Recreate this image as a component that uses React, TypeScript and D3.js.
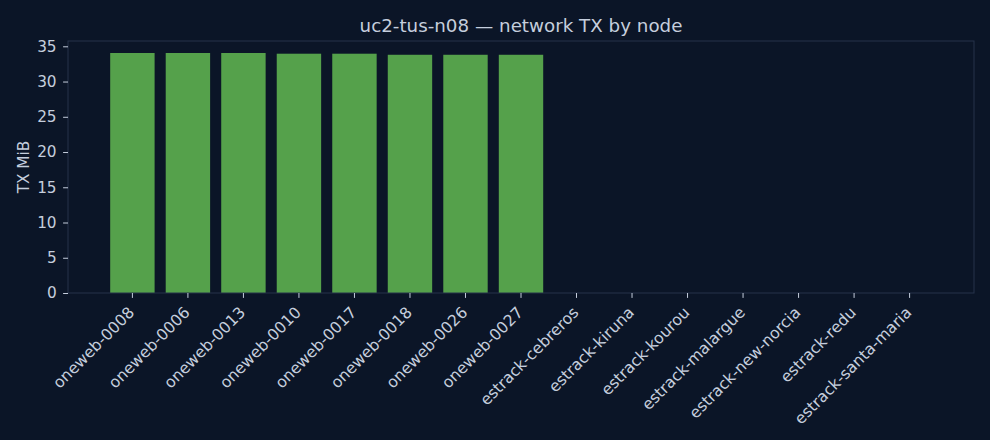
import * as d3 from "d3";
import React, { useRef, useEffect } from "react";

const width = 990;
const height = 440;
const margin = { top: 41, right: 16, bottom: 147, left: 68 };

const nodes = [
	"oneweb-0008",
	"oneweb-0006",
	"oneweb-0013",
	"oneweb-0010",
	"oneweb-0017",
	"oneweb-0018",
	"oneweb-0026",
	"oneweb-0027",
	"estrack-cebreros",
	"estrack-kiruna",
	"estrack-kourou",
	"estrack-malargue",
	"estrack-new-norcia",
	"estrack-redu",
	"estrack-santa-maria",
];
const txMiB = [34.05, 34.05, 34.05, 33.95, 33.95, 33.8, 33.8, 33.8, 0, 0, 0, 0, 0, 0, 0];
const yTicks = [0, 5, 10, 15, 20, 25, 30, 35];

const bg = "#0b1527";
const textColor = "#c5cedd";
const spineColor = "#26334b";
const barColor = "#55a14b";
const font = "DejaVu Sans, sans-serif";
const tickFont = 15.3;

const App = () => {
	const d3Container = useRef(null);

	useEffect(() => {
		document.body.style.margin = "0";
		if (d3Container.current) {
			const svg = d3.select(d3Container.current);
			svg.selectAll("*").remove();
			renderChart(svg);
		}
	}, []);

	const renderChart = (svg: any) => {
		const innerW = width - margin.left - margin.right;
		const innerH = height - margin.top - margin.bottom;

		svg.append("rect").attr("width", width).attr("height", height).attr("fill", bg);

		const g = svg
			.append("g")
			.attr("transform", `translate(${margin.left}, ${margin.top})`);

		// matplotlib-like: bars of width 0.8, 5% margins on data extent
		const xScale = d3
			.scaleBand()
			.domain(nodes)
			.range([0, innerW])
			.paddingInner(0.2)
			.paddingOuter(0.76);
		const yMax = d3.max(txMiB)! * 1.05;
		const yScale = d3.scaleLinear().domain([0, yMax]).range([innerH, 0]);

		g.selectAll(".bar")
			.data(nodes)
			.enter()
			.append("rect")
			.attr("class", "bar")
			.attr("x", (d: string) => xScale(d))
			.attr("y", (d: string, i: number) => yScale(txMiB[i]))
			.attr("width", xScale.bandwidth())
			.attr("height", (d: string, i: number) => innerH - yScale(txMiB[i]))
			.attr("fill", barColor);

		// frame
		g.append("rect")
			.attr("x", 0)
			.attr("y", 0)
			.attr("width", innerW)
			.attr("height", innerH)
			.attr("fill", "none")
			.attr("stroke", spineColor)
			.attr("stroke-width", 1);

		const yAxis = g
			.append("g")
			.call(d3.axisLeft(yScale).tickValues(yTicks).tickSize(4.9).tickPadding(6.5));
		yAxis.select(".domain").remove();

		const xAxis = g
			.append("g")
			.attr("transform", `translate(0,${innerH})`)
			.call(d3.axisBottom(xScale).tickSize(4.9));
		xAxis.select(".domain").remove();

		svg.selectAll(".tick line").attr("stroke", textColor);
		svg.selectAll(".tick text")
			.attr("fill", textColor)
			.attr("font-family", font)
			.attr("font-size", tickFont);

		xAxis
			.selectAll("text")
			.attr("x", 0)
			.attr("y", 0)
			.attr("dy", 0)
			.attr("font-size", 15.7)
			.attr("text-anchor", "end")
			.attr("transform", "translate(3,20.5) rotate(-45)");

		svg.append("text")
			.attr("x", margin.left + innerW / 2)
			.attr("y", 32)
			.attr("text-anchor", "middle")
			.attr("fill", textColor)
			.attr("font-family", font)
			.attr("font-size", 18.3)
			.text("uc2-tus-n08 — network TX by node");

		svg.append("text")
			.attr("transform", `translate(28.5, ${margin.top + innerH / 2}) rotate(-90)`)
			.attr("text-anchor", "middle")
			.attr("fill", textColor)
			.attr("font-family", font)
			.attr("font-size", tickFont)
			.text("TX MiB");
	};

	return (
		<svg
			width={width}
			height={height}
			style={{ display: "block", backgroundColor: bg }}
			ref={d3Container}
		/>
	);
};

export default App;
